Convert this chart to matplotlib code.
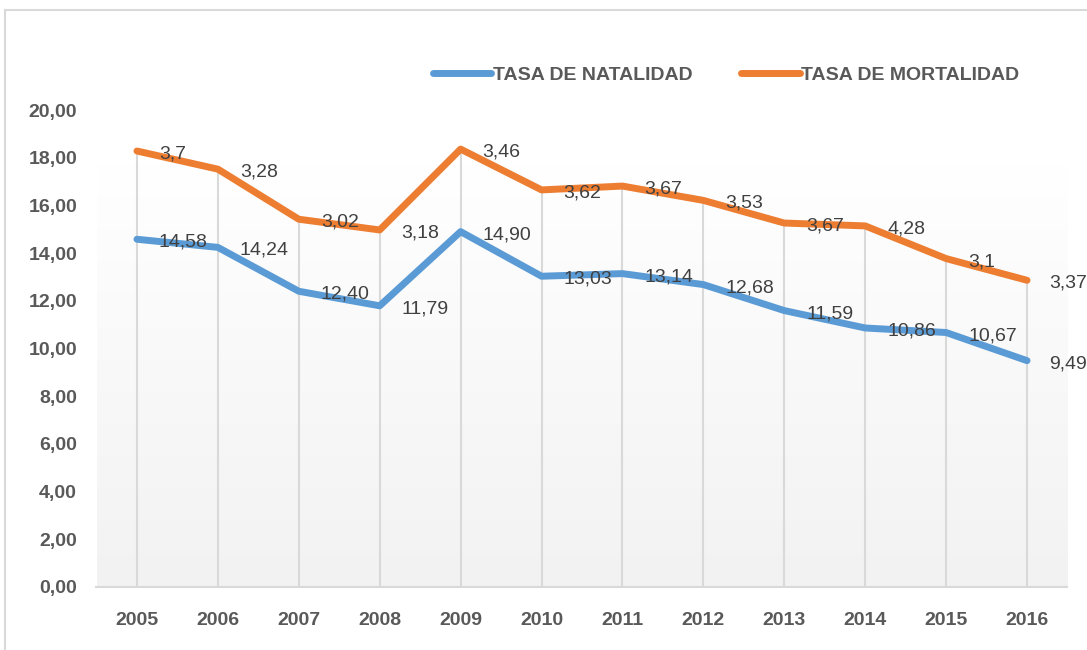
import numpy as np
import matplotlib
matplotlib.use("Agg")
import matplotlib.pyplot as plt
from matplotlib.lines import Line2D

years = ["2005", "2006", "2007", "2008", "2009", "2010", "2011", "2012", "2013", "2014", "2015", "2016"]
natalidad = [14.58, 14.24, 12.40, 11.79, 14.90, 13.03, 13.14, 12.68, 11.59, 10.86, 10.67, 9.49]
mortalidad = [3.7, 3.28, 3.02, 3.18, 3.46, 3.62, 3.67, 3.53, 3.67, 4.28, 3.1, 3.37]
natalidad_labels = ["14,58", "14,24", "12,40", "11,79", "14,90", "13,03", "13,14", "12,68", "11,59", "10,86", "10,67", "9,49"]
mortalidad_labels = ["3,7", "3,28", "3,02", "3,18", "3,46", "3,62", "3,67", "3,53", "3,67", "4,28", "3,1", "3,37"]
yticks = [0, 2, 4, 6, 8, 10, 12, 14, 16, 18, 20]
ytick_labels = ["0,00", "2,00", "4,00", "6,00", "8,00", "10,00", "12,00", "14,00", "16,00", "18,00", "20,00"]

FONT = ["Liberation Sans Narrow", "Liberation Sans", "DejaVu Sans"]
plt.rcParams["font.family"] = FONT
BLUE = "#5B9BD5"
ORANGE = "#ED7D31"
TXT = "#595959"
GRID = "#D9D9D9"

fig = plt.figure(figsize=(10.87, 6.5), dpi=100)
W, H = 1087, 650
ax = fig.add_axes([96.5 / W, 1 - 587 / H, (1067.5 - 96.5) / W, (587 - 110) / H])

x = np.arange(len(years))
nat = np.array(natalidad)
total = nat + np.array(mortalidad)

# gradient background
grad_top = 0.885
n = 256
g = np.linspace(0, 1, n)[:, None]
c_top = np.array([1.0, 1.0, 1.0])
c_bot = np.array([0xF2, 0xF2, 0xF2]) / 255.0
img = c_top[None, None, :] * (1 - g[:, :, None]) + c_bot[None, None, :] * g[:, :, None]
ax.imshow(img, extent=[0, 1, 0, grad_top], transform=ax.transAxes, aspect="auto", zorder=0)

ax.set_xlim(-0.5, len(years) - 0.5)
ax.set_ylim(0, 20)

# drop lines
ax.vlines(x, 0, total, color=GRID, lw=1.5, zorder=1)

ax.plot(x, nat, color=BLUE, lw=5, solid_capstyle="round", solid_joinstyle="round", zorder=3)
ax.plot(x, total, color=ORANGE, lw=5, solid_capstyle="round", solid_joinstyle="round", zorder=3)

for xi, yi, lab in zip(x, nat, natalidad_labels):
    ax.annotate(lab, (xi, yi), xytext=(22, -3), textcoords="offset pixels",
                ha="left", va="center", fontsize=14, color="#404040", zorder=4)
for xi, yi, lab in zip(x, total, mortalidad_labels):
    ax.annotate(lab, (xi, yi), xytext=(22, -3), textcoords="offset pixels",
                ha="left", va="center", fontsize=14, color="#404040", zorder=4)

for s in ["top", "right", "left"]:
    ax.spines[s].set_visible(False)
ax.spines["bottom"].set_color(GRID)
ax.spines["bottom"].set_linewidth(1.5)

ax.set_xticks(x)
ax.set_xticklabels(years, fontsize=14, fontweight="bold", color=TXT)
ax.set_yticks(yticks)
ax.set_yticklabels(ytick_labels, fontsize=14, fontweight="bold", color=TXT)
ax.tick_params(axis="both", length=0)
ax.tick_params(axis="x", pad=18)
ax.tick_params(axis="y", pad=14)
ax.patch.set_visible(False)

handles = [Line2D([0], [0], color=BLUE, lw=5, solid_capstyle="round"),
           Line2D([0], [0], color=ORANGE, lw=5, solid_capstyle="round")]
leg = fig.legend(handles, ["TASA DE NATALIDAD", "TASA DE MORTALIDAD"], loc="center",
                 bbox_to_anchor=(0.668, 1 - 75 / H), ncol=2, frameon=False,
                 handlelength=3.0, handletextpad=0.1, columnspacing=2.5,
                 prop={"size": 14, "weight": "bold"})
for t in leg.get_texts():
    t.set_color(TXT)

# outer chart border (left and top visible)
fig.add_artist(Line2D([5 / W, 5 / W], [0, 1 - 10 / H], transform=fig.transFigure, color=GRID, lw=1.5))
fig.add_artist(Line2D([5 / W, 1], [1 - 10 / H, 1 - 10 / H], transform=fig.transFigure, color=GRID, lw=1.5))

fig.savefig("out.png", dpi=100)
